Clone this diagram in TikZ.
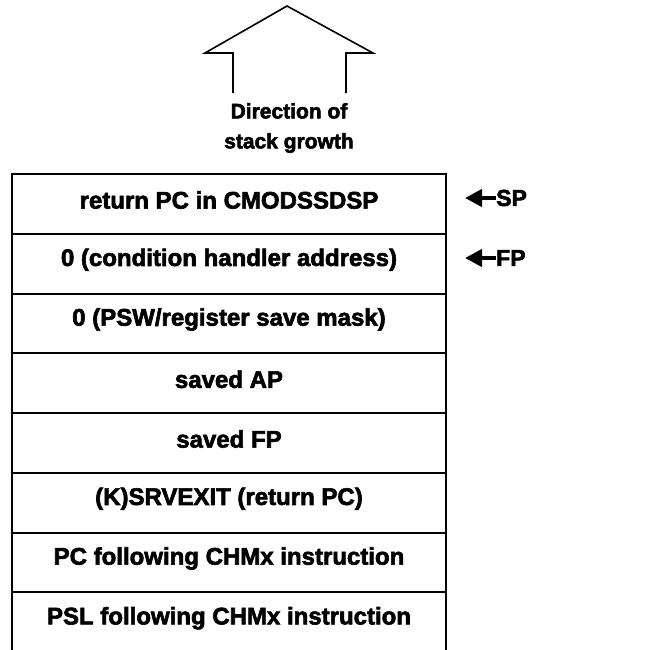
\documentclass[tikz,border=0pt]{standalone}
\usepackage{fontspec}
\setmainfont{Liberation Sans}[BoldFeatures={FakeBold=2.5}]
\usetikzlibrary{arrows.meta}
\begin{document}
\begin{tikzpicture}[x=1pt,y=-1pt,
  frame/.style={draw=black,line width=2pt},
  cell/.style={font=\fontsize{24}{26}\selectfont\bfseries,anchor=center},
  pointer/.style={line width=4pt,-{Triangle[length=17pt,width=17pt]}},
  ptrlabel/.style={font=\fontsize{23}{26}\selectfont\bfseries,anchor=west,inner sep=0pt},
  house/.style={draw=black,line width=1.6pt,line join=miter}]
\useasboundingbox (0,0) rectangle (662,649);
% upward arrow outline
\draw[house] (233,93) -- (233,53) -- (205,53) -- (287,6) -- (373,53) -- (346,53) -- (346,93);
\node[font=\fontsize{21}{30}\selectfont\bfseries,align=center] (dir) at (289,128) {Direction of\\stack growth};
% stack frame rows
\foreach \i/\txt in {0/{return PC in CMODSSDSP},
                     1/{0 (condition handler address)},
                     2/{0 (PSW/register save mask)},
                     3/{saved AP},
                     4/{saved FP},
                     5/{(K)SRVEXIT (return PC)},
                     6/{PC following CHMx instruction},
                     7/{PSL following CHMx instruction}}{
  \draw[frame] (12,174+59.75*\i) rectangle (446,174+59.75*\i+59.75);
  \node[cell] (row\i) at (229,200+59.75*\i) {\txt};
}
% pointer registers
\coordinate (sptip) at (465,198);
\coordinate (fptip) at (465,258);
\node[ptrlabel] (sp) at (496,198) {SP};
\node[ptrlabel] (fp) at (496,258) {FP};
\draw[pointer] (sp.west) -- (sptip);
\draw[pointer] (fp.west) -- (fptip);
\end{tikzpicture}
\end{document}
